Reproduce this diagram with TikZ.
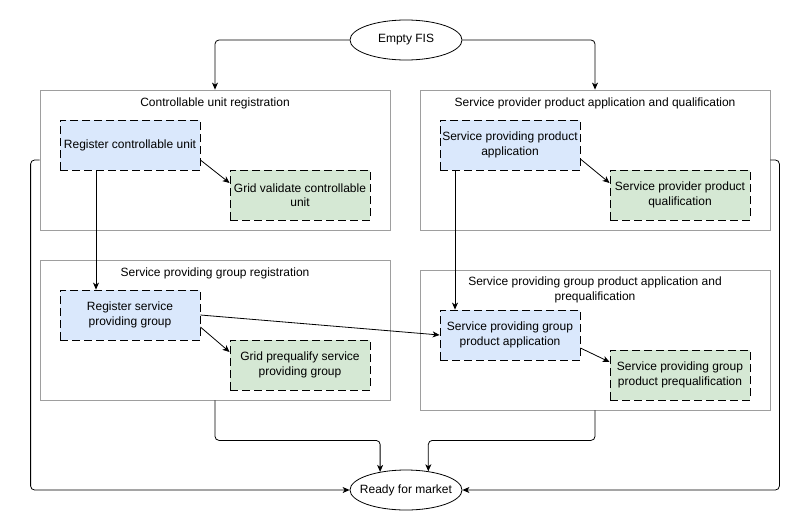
\documentclass[tikz,border=0pt]{standalone}
\usepackage{fontspec}
\setmainfont{Liberation Sans}
\usetikzlibrary{positioning,shapes.geometric,arrows.meta}
\definecolor{blueFill}{HTML}{DAE8FC}
\definecolor{greenFill}{HTML}{D5E8D4}
\definecolor{grpLine}{HTML}{9E9E9E}

\begin{document}
\begin{tikzpicture}[x=1pt,y=-1pt,
  font=\fontsize{12}{14.5}\selectfont,
  every node/.style={inner sep=0pt},
  grp/.style={draw=grpLine, line width=0.8pt, minimum width=350pt, minimum height=140pt},
  ttl/.style={align=center},
  task/.style={draw, dash pattern=on 8pt off 4pt, line width=0.8pt, minimum width=140pt, minimum height=50pt, align=center},
  regbox/.style={task, fill=blueFill},
  chkbox/.style={task, fill=greenFill},
  term/.style={ellipse, draw, line width=0.8pt, inner xsep=-7pt, minimum width=112pt, minimum height=40pt},
  arr/.style={-{Stealth[length=7pt,width=6pt,inset=2pt]}, line width=0.8pt, rounded corners=4pt}]
\useasboundingbox (0,0) rectangle (810,530);

% start and end
\node[term] (fis) at (406,40) {Empty FIS};
\node[term] (rfm) at (406,490) {Ready for market};

% groups
\node[grp] (cu) at (215,160) {};
\node[ttl] (cut) at (215,103) {Controllable unit registration};
\node[grp] (sp) at (595,160) {};
\node[ttl] (spt) at (595,103) {Service provider product application and qualification};
\node[grp] (spg) at (215,330) {};
\node[ttl] (spgt) at (215,273) {Service providing group registration};
\node[grp] (spgp) at (595,340) {};
\node[ttl] (spgpt) at (595,290) {Service providing group product application and\\prequalification};

% tasks
\node[regbox] (rcu) at (130,145) {Register controllable unit};
\node[chkbox] (gvc) at (300,195) {Grid validate controllable\\unit};
\node[regbox] (sppa) at (510,145) {Service providing product\\application};
\node[chkbox] (sppq) at (680,195) {Service provider product\\qualification};
\node[regbox] (rsg) at (130,315) {Register service\\providing group};
\node[chkbox] (gps) at (300,365) {Grid prequalify service\\providing group};
\node[regbox] (spga) at (510,335) {Service providing group\\product application};
\node[chkbox] (spgq) at (680,375) {Service providing group\\product prequalification};

% connectors
\draw[arr] (fis.west) -| (cu.north);
\draw[arr] (fis.east) -| (sp.north);
\draw[arr] ([yshift=-15pt]rcu.east) -- ([yshift=12pt]gvc.west);
\draw[arr] ([yshift=-14pt]sppa.east) -- ([yshift=12pt]sppq.west);
\draw[arr] ([xshift=-34pt]rcu.south) -- ([xshift=-34pt]rsg.north);
\draw[arr] ([xshift=-55pt]sppa.south) -- ([xshift=-55pt]spga.north);
\draw[arr] (rsg.east) -- (spga.west);
\draw[arr] ([yshift=-12pt]rsg.east) -- ([yshift=13pt]gps.west);
\draw[arr] ([yshift=-13pt]spga.east) -- ([yshift=13pt]spgq.west);
\draw[arr] (cu.west) -- ++(-9,0) |- (rfm.west);
\draw[arr] (sp.east) -- ++(9,0) |- (rfm.east);
\draw[arr] (spg.south) -- ++(0,40) -| (rfm.145);
\draw[arr] (spgp.south) -- ++(0,30) -| (rfm.40);
\end{tikzpicture}
\end{document}
